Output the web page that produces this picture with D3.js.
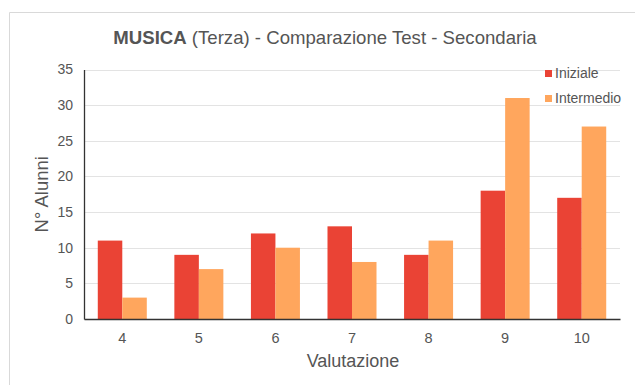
<!DOCTYPE html>
<html>
<head>
<meta charset="utf-8">
<script src="https://cdnjs.cloudflare.com/ajax/libs/d3/7.8.5/d3.min.js"></script>
<style>
  html, body { margin: 0; padding: 0; background: #fff; }
  svg { display: block; font-family: "Liberation Sans", Arial, sans-serif; }
</style>
</head>
<body>
<div id="chart"></div>
<script>
// Grades and number of pupils per grade, for the two test rounds
const categories = ["4", "5", "6", "7", "8", "9", "10"];
const iniziale = [11, 9, 12, 13, 9, 18, 17];
const intermedio = [3, 7, 10, 8, 11, 31, 27];
const seriesNames = ["Iniziale", "Intermedio"];
const yTicks = [0, 5, 10, 15, 20, 25, 30, 35];

const W = 635, H = 385;
const colors = ["#ea4335", "#ffa65d"];
const textColor = "#555";
const font = "'Liberation Sans', Arial, sans-serif";

const svg = d3.select("#chart").append("svg")
  .attr("width", W).attr("height", H);

// Chart frame
svg.append("path")
  .attr("d", `M9.5,${H} L9.5,12.5 L${W},12.5`)
  .attr("fill", "none").attr("stroke", "#d9d9d9").attr("stroke-width", 1);

const plot = { left: 84, right: 620, top: 69.5, bottom: 319 };

const x = d3.scaleBand().domain(categories)
  .range([plot.left, plot.right])
  .paddingInner(0.36).paddingOuter(0.18);
const xs = d3.scaleBand().domain(seriesNames).range([0, x.bandwidth()]);
const y = d3.scaleLinear().domain([0, 35]).range([plot.bottom, plot.top]);

// Gridlines
svg.append("g").selectAll("line").data(yTicks.filter(t => t > 0)).join("line")
  .attr("x1", plot.left).attr("x2", plot.right)
  .attr("y1", d => Math.round(y(d)) + 0.5).attr("y2", d => Math.round(y(d)) + 0.5)
  .attr("stroke", "#e3e3e3").attr("stroke-width", 1);

// Bars
const rows = categories.map((c, i) => ({ cat: c, values: [iniziale[i], intermedio[i]] }));
const groups = svg.append("g").selectAll("g").data(rows).join("g")
  .attr("transform", d => `translate(${x(d.cat)},0)`);
groups.selectAll("rect")
  .data(d => d.values.map((v, k) => ({ name: seriesNames[k], v, k })))
  .join("rect")
  .attr("x", d => xs(d.name))
  .attr("width", xs.bandwidth())
  .attr("y", d => y(d.v))
  .attr("height", d => y(0) - y(d.v))
  .attr("fill", d => colors[d.k]);

// Y axis
const yAxis = d3.axisLeft(y).tickValues(yTicks).tickSize(0).tickPadding(11);
const gy = svg.append("g").attr("transform", `translate(${plot.left},0)`).call(yAxis);
gy.select(".domain").attr("stroke", "#333").attr("stroke-width", 1.3);
gy.selectAll("text").attr("fill", textColor).attr("font-size", 14)
  .attr("font-family", font);

// X axis
const xAxis = d3.axisBottom(x).tickSize(0).tickPadding(14);
const gx = svg.append("g").attr("transform", `translate(0,${plot.bottom})`).call(xAxis);
gx.select(".domain").attr("stroke", "#333").attr("stroke-width", 1.3);
gx.selectAll("text").attr("fill", textColor).attr("font-size", 14.5)
  .attr("font-family", font);

// Axis titles
svg.append("text")
  .attr("x", 353).attr("y", 367)
  .attr("text-anchor", "middle").attr("font-size", 18).attr("fill", textColor)
  .text("Valutazione");
svg.append("text")
  .attr("transform", `translate(48,${(plot.top + plot.bottom) / 2}) rotate(-90)`)
  .attr("text-anchor", "middle").attr("font-size", 18.5).attr("fill", textColor)
  .text("N° Alunni");

// Title
const title = svg.append("text")
  .attr("x", 325).attr("y", 44).attr("text-anchor", "middle")
  .attr("font-size", 18.6).attr("fill", textColor);
title.append("tspan").attr("font-weight", "bold").text("MUSICA");
title.append("tspan").text(" (Terza) - Comparazione Test - Secondaria");

// Legend
const legend = svg.append("g").selectAll("g").data(seriesNames).join("g")
  .attr("transform", (d, i) => `translate(545,${70 + i * 25})`);
legend.append("rect").attr("width", 7).attr("height", 7)
  .attr("fill", (d, i) => colors[i]);
legend.append("text").attr("x", 10).attr("y", 8)
  .attr("font-size", 14).attr("fill", textColor).text(d => d);
</script>
</body>
</html>
